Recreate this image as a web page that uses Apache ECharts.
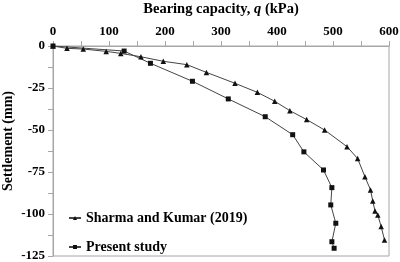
<!DOCTYPE html>
<html>
<head>
<meta charset="utf-8">
<script src="https://cdn.jsdelivr.net/npm/echarts@6/dist/echarts.min.js"></script>
<style>
  html, body { margin: 0; padding: 0; background: #fff; }
  #chart { width: 400px; height: 262px; }
</style>
</head>
<body>
<div id="chart"></div>
<script>
// Sharma and Kumar (2019): [q (kPa), settlement (mm)]
var sharmaData = [
  [0, 0], [25, -1.4], [54, -1.8], [95, -3.2], [121, -4.4], [157, -6.4],
  [197, -9.1], [239, -11.1], [274, -15.7], [325, -22.2], [365, -27.6],
  [396, -32.9], [423, -38.5], [453, -43.8], [485, -50], [525, -59.9],
  [544, -67], [557, -77.8], [567, -85.7], [571, -92.3], [575, -98.2],
  [580, -100.6], [586, -107.5], [592, -115.5]
];
// Present study
var presentData = [
  [0, 0], [127, -3], [174, -10.3], [249, -21], [313, -31.5], [379, -42.1],
  [428, -52.8], [448, -63], [483, -73.8], [498, -84.3], [496, -94.6],
  [505, -105.5], [498, -116.5], [502, -120.4]
];
var seriesNames = ["Sharma and Kumar (2019)", "Present study"];
var xTicks = [0, 100, 200, 300, 400, 500, 600];
var yTicks = [0, -25, -50, -75, -100, -125];

var font = "Liberation Serif";
var axisGray = "#a6a6a6";
var chart = echarts.init(document.getElementById("chart"));

var option = {
  animation: false,
  grid: {
    left: 53,
    right: 11,
    top: 46,
    bottom: 6,
    containLabel: false,
    outerBoundsMode: "none",
    show: true,
    borderColor: axisGray,
    borderWidth: 1
  },
  xAxis: {
    type: "value",
    position: "top",
    min: xTicks[0],
    max: xTicks[xTicks.length - 1],
    interval: 50,
    name: "Bearing capacity, {i|q} (kPa)",
    nameLocation: "middle",
    nameGap: 29,
    nameMoveOverlap: false,
    nameTextStyle: {
      fontFamily: font,
      fontWeight: "bold",
      fontSize: 14.5,
      color: "#000",
      rich: {
        i: { fontFamily: font, fontWeight: "bold", fontStyle: "italic", fontSize: 14.5, color: "#000" }
      }
    },
    axisLine: { show: true, lineStyle: { color: axisGray, width: 1 } },
    axisTick: { show: true, inside: false, length: 5, lineStyle: { color: axisGray } },
    splitLine: { show: false },
    axisLabel: {
      margin: 8,
      fontFamily: font,
      fontWeight: "bold",
      fontSize: 13,
      color: "#000",
      formatter: function (v) {
        return xTicks.indexOf(v) >= 0 ? String(v) : "";
      }
    }
  },
  yAxis: {
    type: "value",
    min: yTicks[yTicks.length - 1],
    max: yTicks[0],
    interval: 12.5,
    name: "Settlement (mm)",
    nameLocation: "middle",
    nameGap: 38,
    nameMoveOverlap: false,
    nameTextStyle: {
      fontFamily: font,
      fontWeight: "bold",
      fontSize: 14,
      color: "#000",
      padding: [0, 0, 0, 20]
    },
    axisLine: { show: true, lineStyle: { color: axisGray, width: 1 } },
    axisTick: { show: true, inside: false, length: 5, lineStyle: { color: axisGray } },
    splitLine: { show: false },
    axisLabel: {
      margin: 8,
      fontFamily: font,
      fontWeight: "bold",
      fontSize: 13,
      color: "#000",
      formatter: function (v) {
        return yTicks.indexOf(v) >= 0 ? String(v) : "";
      }
    }
  },
  legend: {
    orient: "vertical",
    left: 63,
    top: 206,
    itemGap: 15,
    itemWidth: 12,
    itemHeight: 5,
    textStyle: {
      fontFamily: font,
      fontWeight: "bold",
      fontSize: 14,
      color: "#000"
    },
    data: seriesNames
  },
  series: [
    {
      name: seriesNames[0],
      type: "line",
      data: sharmaData,
      symbol: "triangle",
      symbolSize: 5.5,
      lineStyle: { color: "#444", width: 1 },
      itemStyle: { color: "#111" }
    },
    {
      name: seriesNames[1],
      type: "line",
      data: presentData,
      symbol: "rect",
      symbolSize: 5,
      lineStyle: { color: "#444", width: 1 },
      itemStyle: { color: "#111" }
    }
  ]
};

chart.setOption(option);
</script>
</body>
</html>
